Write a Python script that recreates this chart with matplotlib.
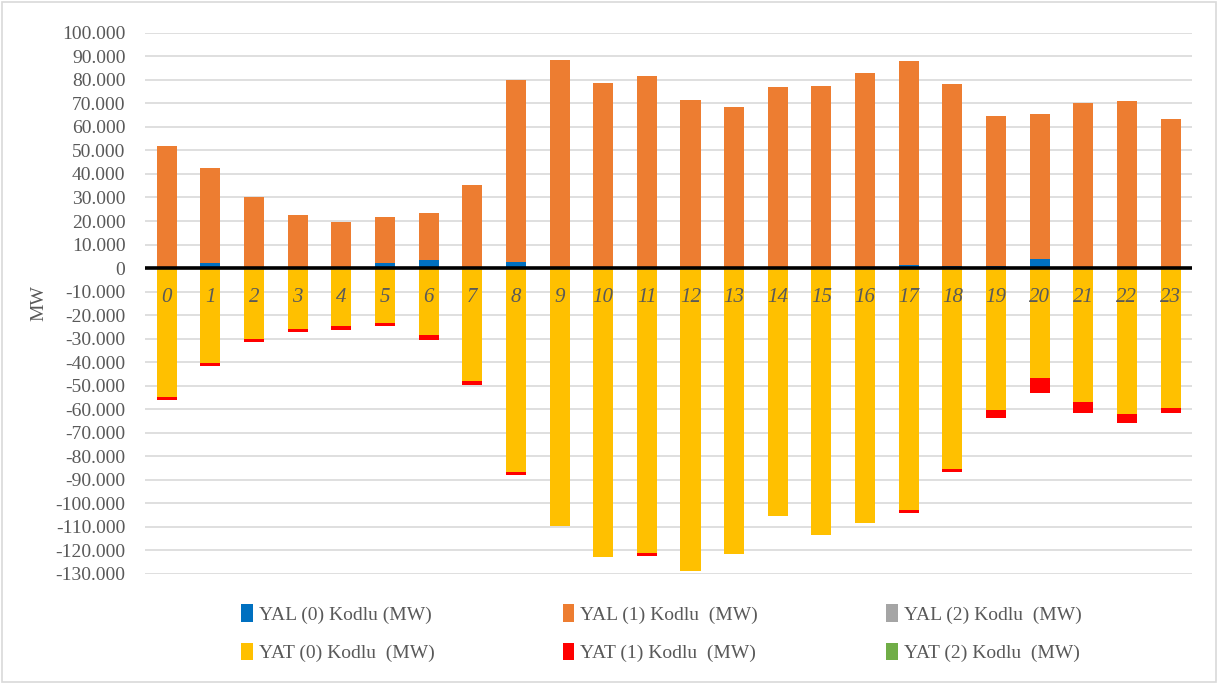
import numpy as np
import matplotlib.pyplot as plt
from matplotlib.patches import Rectangle
from matplotlib.ticker import FuncFormatter, MultipleLocator

HOURS = list(range(24))

# MW values
YAL0 = [0, 2000, 600, 600, 0, 2000, 3300, 0, 2400, 600, 0, 0,
        0, 0, 500, 0, 500, 1400, 1000, 1000, 3800, 500, 0, 0]
YAL_TOTAL = [51700, 42700, 30300, 22600, 19700, 21800, 23500, 35500, 79900, 88500, 78600, 81600,
             71400, 68400, 76900, 77400, 82900, 88000, 78200, 64500, 65400, 70100, 70900, 63200]
YAL1 = [t - b for t, b in zip(YAL_TOTAL, YAL0)]
YAL2 = [0] * 24

YAT0 = [55000, 40200, 30000, 25800, 24800, 23400, 28500, 48000, 86700, 109500, 122900, 121300,
        128600, 121700, 105200, 113300, 108500, 103000, 85300, 60300, 46900, 57100, 62200, 59500]
YAT1 = [1200, 1300, 1300, 1200, 1400, 1400, 1900, 1600, 1100, 0, 0, 1200,
        0, 0, 0, 0, 0, 1300, 1600, 3300, 6100, 4700, 3800, 2300]
YAT2 = [0] * 24

LABELS = ["YAL (0) Kodlu (MW)", "YAL (1) Kodlu  (MW)", "YAL (2) Kodlu  (MW)",
          "YAT (0) Kodlu  (MW)", "YAT (1) Kodlu  (MW)", "YAT (2) Kodlu  (MW)"]
COLORS = ["#0070c0", "#ed7d31", "#a5a5a5", "#ffc000", "#ff0000", "#70ad47"]

plt.rcParams['font.family'] = ['Liberation Serif', 'DejaVu Serif']
TXT = "#595959"

fig = plt.figure(figsize=(12.18, 6.84), dpi=100)
fig.patches.append(Rectangle((0.002, 0.003), 0.996, 0.994, transform=fig.transFigure,
                             fill=False, edgecolor="#d9d9d9", linewidth=1.2))
ax = fig.add_axes([0.119, 0.161, 0.860, 0.791])

x = np.arange(len(HOURS))
w = 0.46
yal0 = np.array(YAL0)
yal1 = np.array(YAL1)
yat0 = np.array(YAT0)
yat1 = np.array(YAT1)

h = []
h.append(ax.bar(x, yal0, w, color=COLORS[0], label=LABELS[0], zorder=3))
h.append(ax.bar(x, yal1, w, bottom=yal0, color=COLORS[1], label=LABELS[1], zorder=3))
h.append(ax.bar(x, YAL2, w, bottom=yal0 + yal1, color=COLORS[2], label=LABELS[2], zorder=3))
h.append(ax.bar(x, -yat0, w, color=COLORS[3], label=LABELS[3], zorder=3))
h.append(ax.bar(x, -yat1, w, bottom=-yat0, color=COLORS[4], label=LABELS[4], zorder=3))
h.append(ax.bar(x, -np.array(YAT2), w, bottom=-yat0 - yat1, color=COLORS[5], label=LABELS[5], zorder=3))

ax.set_xlim(-0.5, 23.5)
ax.set_ylim(-130000, 100000)
ax.yaxis.set_major_locator(MultipleLocator(10000))
ax.yaxis.set_major_formatter(FuncFormatter(lambda v, p: f"{int(round(v)):,}".replace(",", ".")))
ax.grid(axis='y', color="#d9d9d9", linewidth=1.2, zorder=0)
ax.set_axisbelow(True)

for s in ['top', 'right', 'left', 'bottom']:
    ax.spines[s].set_visible(False)
ax.axhline(0, color='black', linewidth=2.6, zorder=5)

# hour labels sit on top of the bars, just under the zero line
ax.set_xticks([])
for xi, hr in zip(x, HOURS):
    ax.annotate(str(hr), xy=(xi, 0), xytext=(0, -14), textcoords='offset points',
                ha='center', va='top', fontstyle='italic', fontsize=15, color=TXT, zorder=6)

ax.tick_params(axis='y', length=0, labelsize=14, labelcolor=TXT, pad=14)
ax.set_ylabel("MW", fontsize=14, color=TXT, labelpad=6)

order = [0, 3, 1, 4, 2, 5]
fig.legend([h[i] for i in order], [LABELS[i] for i in order], ncol=3,
           loc='lower center', bbox_to_anchor=(0.543, 0.006), frameon=False,
           fontsize=14, labelcolor=TXT, handlelength=0.6, handleheight=1.0,
           handletextpad=0.3, columnspacing=6.6, labelspacing=1.0)

fig.savefig("out.png", dpi=100)
